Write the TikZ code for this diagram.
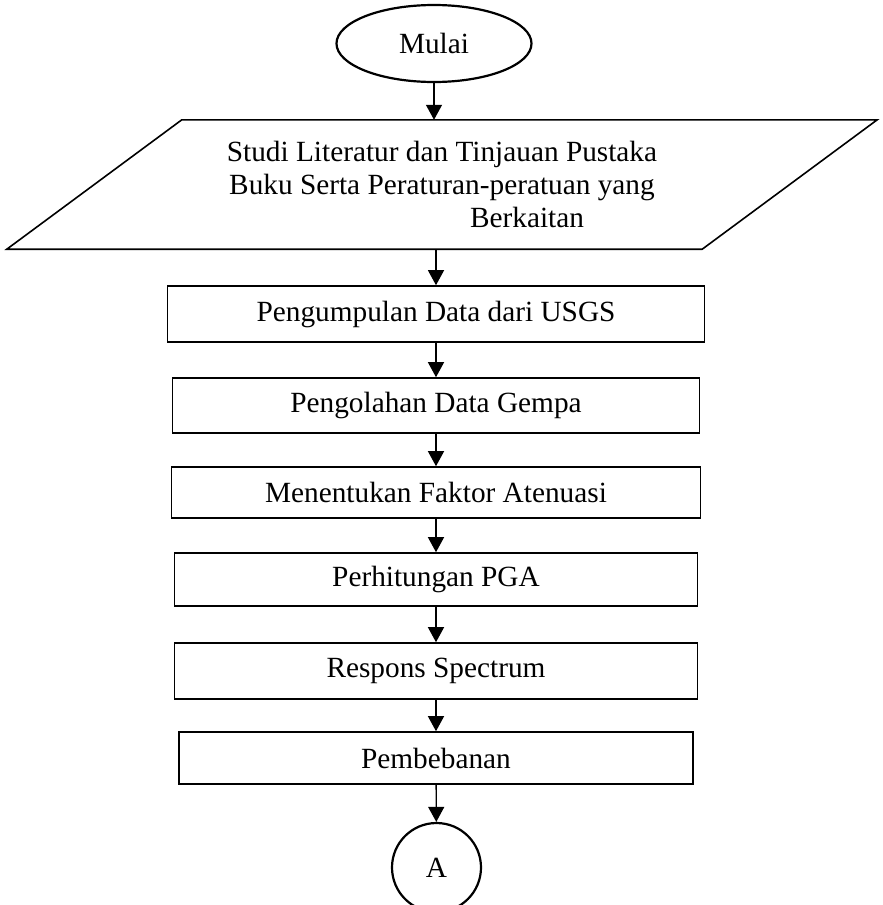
\documentclass[tikz,border=0pt]{standalone}
\usepackage{fontspec}
\setmainfont{Liberation Serif}
\usetikzlibrary{arrows.meta, shapes.geometric, calc}

\begin{document}
\begin{tikzpicture}[
  x=1pt, y=-1pt,
  every node/.style={font=\fontsize{29.3}{33}\selectfont},
  terminal/.style={ellipse, draw, line width=2.2pt, minimum width=195pt, minimum height=77pt, inner sep=0pt},
  inputbox/.style={rectangle, minimum width=870pt, minimum height=129pt, inner sep=0pt, align=center},
  processbox/.style={rectangle, draw, line width=1.6pt, inner sep=0pt},
  connector/.style={circle, draw, line width=2.2pt, minimum size=89pt, inner sep=0pt},
  arrow/.style={-{Triangle[length=15pt, width=16pt]}, line width=1.3pt}
]
\useasboundingbox (0,0) rectangle (883,905);

% === Start and literature study ===
\node[terminal] (mulai) at (434, 43.5) {Mulai};

\node[inputbox] (studi) at (442, 184.5) {Studi Literatur dan Tinjauan Pustaka\\
  Buku Serta Peraturan-peratuan yang\\
  \hspace*{170pt}Berkaitan};
\draw[line width=1.6pt, line join=miter]
  ($(studi.north west)+(175,0)$) -- (studi.north east)
  -- ($(studi.south east)-(175,0)$) -- (studi.south west) -- cycle;

% === Process steps (top to bottom) ===
\node[processbox, minimum width=537pt, minimum height=56pt] (kumpul)   at (436, 314)   {Pengumpulan Data dari USGS};
\node[processbox, minimum width=527pt, minimum height=55pt] (olah)     at (436, 405.5) {Pengolahan Data Gempa};
\node[processbox, minimum width=529pt, minimum height=51pt] (atenuasi) at (436, 492.5) {Menentukan Faktor Atenuasi};
\node[processbox, minimum width=523pt, minimum height=53pt] (pga)      at (436, 579.5) {Perhitungan PGA};
\node[processbox, minimum width=523pt, minimum height=56pt] (respons)  at (436, 671)   {Respons Spectrum};
\node[processbox, minimum width=514pt, minimum height=52pt] (beban)    at (436, 758)   {Pembebanan};

% === Off-page connector ===
\node[connector] (lanjut) at (436.5, 867.5) {A};

% === Arrows ===
\draw[arrow] (mulai) -- (mulai |- studi.north);
\draw[arrow] (kumpul |- studi.south) -- (kumpul);
\draw[arrow] (kumpul) -- (olah);
\draw[arrow] (olah) -- (atenuasi);
\draw[arrow] (atenuasi) -- (pga);
\draw[arrow] (pga) -- (respons);
\draw[arrow] (respons) -- (beban);
\draw[arrow] (beban) -- (lanjut);

\end{tikzpicture}
\end{document}
